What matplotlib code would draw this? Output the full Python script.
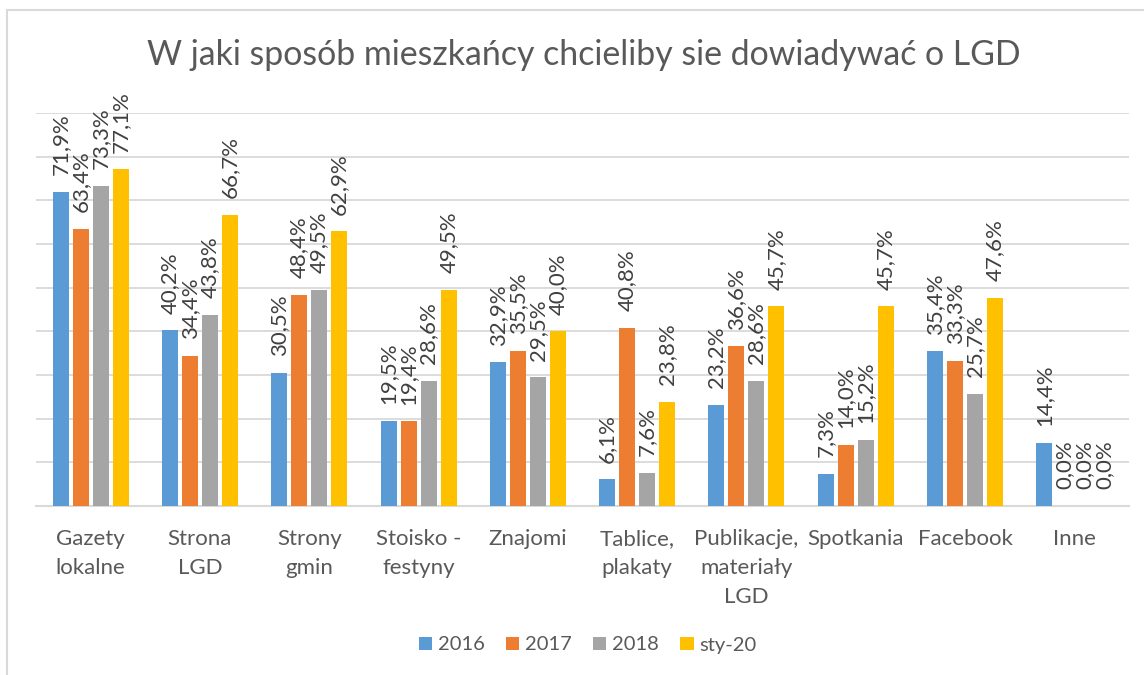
import matplotlib
matplotlib.use("Agg")
import matplotlib.pyplot as plt
from matplotlib.lines import Line2D
from matplotlib.patches import Patch
import numpy as np

plt.rcParams['font.family'] = ['Lato', 'DejaVu Sans']

categories = ["Gazety\nlokalne", "Strona\nLGD", "Strony\ngmin", "Stoisko -\nfestyny",
              "Znajomi", "Tablice,\nplakaty", "Publikacje,\nmateriały\nLGD", "Spotkania",
              "Facebook", "Inne"]
series_names = ["2016", "2017", "2018", "sty-20"]
v2016 = [71.9, 40.2, 30.5, 19.5, 32.9, 6.1, 23.2, 7.3, 35.4, 14.4]
v2017 = [63.4, 34.4, 48.4, 19.4, 35.5, 40.8, 36.6, 14.0, 33.3, 0.0]
v2018 = [73.3, 43.8, 49.5, 28.6, 29.5, 7.6, 28.6, 15.2, 25.7, 0.0]
vsty20 = [77.1, 66.7, 62.9, 49.5, 40.0, 23.8, 45.7, 45.7, 47.6, 0.0]
series = [v2016, v2017, v2018, vsty20]
colors = ["#5B9BD5", "#ED7D31", "#A5A5A5", "#FFC000"]

W, H = 1144, 675
fig = plt.figure(figsize=(W / 100, H / 100), dpi=100)
ax = fig.add_axes([36 / W, 1 - 506 / H, (1129 - 36) / W, (506 - 113) / H])

x = np.arange(len(categories))
step = 20 / 109.3
width = 16 / 109.3
for i, (vals, c) in enumerate(zip(series, colors)):
    pos = x + (i - 1.5) * step
    ax.bar(pos, vals, width, color=c, zorder=3, label=series_names[i])
    for p, v in zip(pos, vals):
        ax.annotate(f"{v:.1f}%".replace(".", ","), (p, v), xytext=(0, 12),
                    textcoords="offset points", rotation=90, ha="center", va="bottom",
                    fontsize=16, color="#404040", zorder=4)

ax.set_xlim(-0.5, len(categories) - 0.5)
ax.set_ylim(0, 90)
ax.set_yticks(np.arange(10, 91, 10))
ax.yaxis.grid(True, color="#d9d9d9", linewidth=1.3, zorder=0)
ax.tick_params(axis="y", left=False, labelleft=False)
ax.set_xticks(x)
ax.set_xticklabels(categories, fontsize=16, color="#595959", linespacing=1.55)
ax.tick_params(axis="x", length=0, pad=16.5)
for s in ["top", "right", "left"]:
    ax.spines[s].set_visible(False)
ax.spines["bottom"].set_color("#d9d9d9")
ax.spines["bottom"].set_linewidth(1.5)

fig.text(584 / W, 1 - 55 / H, "W jaki sposób mieszkańcy chcieliby sie dowiadywać o LGD",
         ha="center", va="center", fontsize=24.4, color="#595959")

handles = [Patch(facecolor=c, edgecolor="none") for c in colors]
fig.legend(handles, series_names, loc="center", bbox_to_anchor=(588 / W, 1 - 645 / H),
           ncol=4, frameon=False, fontsize=14.5, labelcolor="#595959",
           handlelength=0.65, handleheight=0.65, handletextpad=0.3, columnspacing=1.05)

# chart border
fig.add_artist(Line2D([7 / W, 7 / W], [0, 1 - 10 / H], transform=fig.transFigure,
                      color="#d9d9d9", linewidth=1.5))
fig.add_artist(Line2D([7 / W, 1], [1 - 10 / H, 1 - 10 / H], transform=fig.transFigure,
                      color="#d9d9d9", linewidth=1.5))

fig.savefig("out.png", dpi=100, facecolor="white")
